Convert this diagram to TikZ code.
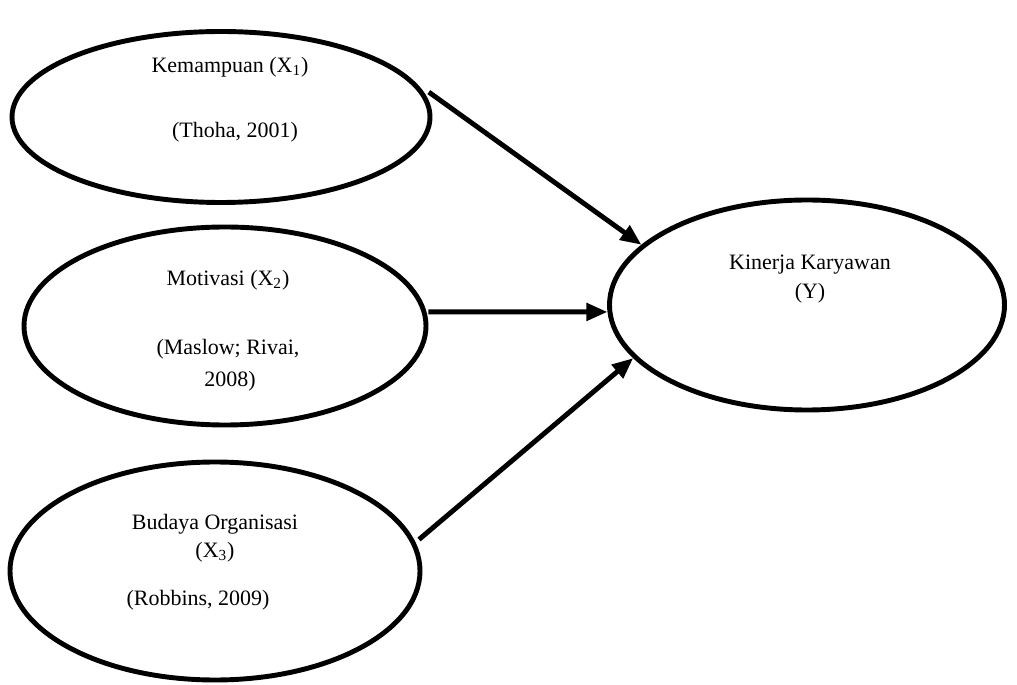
\documentclass[tikz,border=0pt]{standalone}
\usepackage{fontspec}
\setmainfont{Liberation Serif}
\usetikzlibrary{shapes.geometric,arrows.meta}
\tikzset{
  oval/.style={draw, ellipse, line width=2.8pt, inner sep=0pt},
  label/.style={font=\fontsize{12.5}{15}\selectfont, inner sep=0pt},
  link/.style={line width=2.8pt, -{Triangle[length=0.42cm,width=0.34cm]}}
}
\begin{document}
\begin{tikzpicture}[x=0.02cm,y=-0.02cm]
    \useasboundingbox (0,0) rectangle (1017,685);
    % variabel bebas
    \node[oval, minimum width=418*0.02cm, minimum height=171*0.02cm] (kmp) at (221,117) {};
    \node[oval, minimum width=402*0.02cm, minimum height=198*0.02cm] (mtv) at (225,326) {};
    \node[oval, minimum width=410*0.02cm, minimum height=218*0.02cm] (bdy) at (215,571) {};
    % variabel terikat
    \node[oval, minimum width=395*0.02cm, minimum height=210*0.02cm] (knj) at (807,305) {};

    \node[label] (kmpA) at (230,67) {Kemampuan (X\textsubscript{1})};
    \node[label] (kmpB) at (235,132) {(Thoha, 2001)};
    \node[label] (mtvA) at (228,280) {Motivasi (X\textsubscript{2})};
    \node[label] (mtvB) at (228,349) {(Maslow; Rivai,};
    \node[label] (mtvC) at (230,381) {2008)};
    \node[label] (bdyA) at (215,524) {Budaya Organisasi};
    \node[label] (bdyB) at (215,552) {(X\textsubscript{3})};
    \node[label] (bdyC) at (198,600) {(Robbins, 2009)};
    \node[label] (knjA) at (810,265) {Kinerja Karyawan};
    \node[label] (knjB) at (810,293) {(Y)};

    \draw[link] ([xshift=0.1cm]kmp.7) -- (knj.160);
    \draw[link] ([xshift=0.04cm]mtv.4) -- (knj.182);
    \draw[link] ([xshift=0.1cm]bdy.9) -- (knj.197);
\end{tikzpicture}
\end{document}
